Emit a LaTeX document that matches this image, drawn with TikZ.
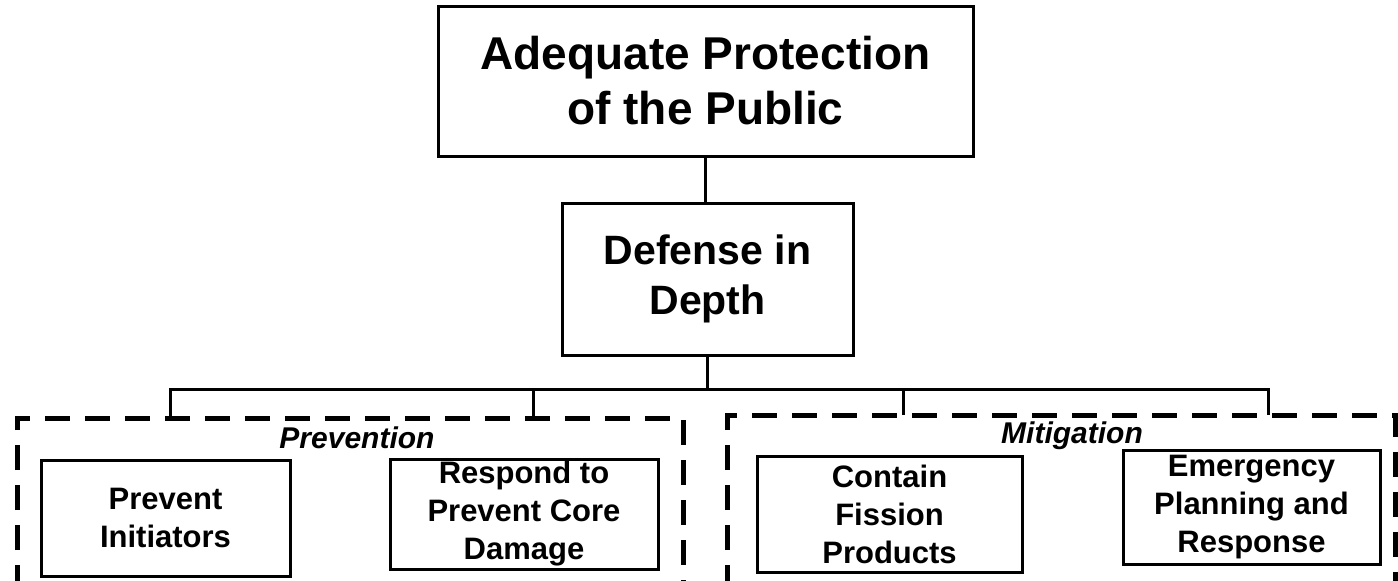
\documentclass[tikz,border=0pt]{standalone}
\usepackage{fontspec}
\setmainfont{Liberation Sans}
\usepackage{tikz}
\definecolor{ink}{RGB}{0, 0, 0}

\begin{document}
\begin{tikzpicture}[x=0.5pt, y=-0.5pt,
    box/.style={draw=ink, line width=1.5pt, align=center, inner sep=0pt,
      font=\bfseries\fontsize{15.5}{19}\selectfont},
    link/.style={draw=ink, line width=1.5pt},
    group/.style={draw=ink, line width=2.5pt, dash pattern=on 12.5pt off 7.5pt},
    grouplabel/.style={anchor=base, font=\bfseries\itshape\fontsize{15}{18}\selectfont}]
  \useasboundingbox (0,0) rectangle (1398,580);

  % Top of the tree
  \node[box, minimum width=267.5pt, minimum height=75pt,
        font=\bfseries\fontsize{23}{27.5}\selectfont] (public) at (705.5,81)
    {Adequate Protection\\of the Public};
  \node[box, minimum width=145.5pt, minimum height=76pt,
        font=\bfseries\fontsize{20.5}{25}\selectfont] (depth) at (707.5,279)
    {Defense in\\Depth};

  % Dashed groups
  \draw[group] (17,590) -- (17,418) -- (683,418) -- (683,590);
  \draw[group] (727,590) -- (727,415) -- (1395,415) -- (1395,590);
  \node[grouplabel] (prevlabel) at (357,448) {Prevention};
  \node[grouplabel] (mitlabel) at (1072,443) {Mitigation};

  % Boxes inside the groups
  \node[box, minimum width=124.5pt, minimum height=58pt] (initiators) at (165.5,518)
    {Prevent\\Initiators};
  \node[box, minimum width=134pt, minimum height=55pt] (coredamage) at (524,514)
    {Respond to\\Prevent Core\\Damage};
  \node[box, minimum width=132.5pt, minimum height=58pt] (fission) at (889.5,514)
    {Contain\\Fission\\Products};
  \node[box, minimum width=128.5pt, minimum height=57pt] (emergency) at (1251.5,507)
    {Emergency\\Planning and\\Response};

  % Connectors
  \coordinate (bar) at (706,389);
  \coordinate (prevA) at (170,418);
  \coordinate (prevB) at (533,418);
  \coordinate (mitA) at (903,415);
  \coordinate (mitB) at (1268,415);
  \draw[link] (public.south) -- (public.south |- depth.north);
  \draw[link] (depth.south) -- (depth.south |- bar);
  \draw[link] (prevA) -- (prevA |- bar) -- (mitB |- bar) -- (mitB);
  \draw[link] (prevB) -- (prevB |- bar);
  \draw[link] (mitA) -- (mitA |- bar);
\end{tikzpicture}
\end{document}
